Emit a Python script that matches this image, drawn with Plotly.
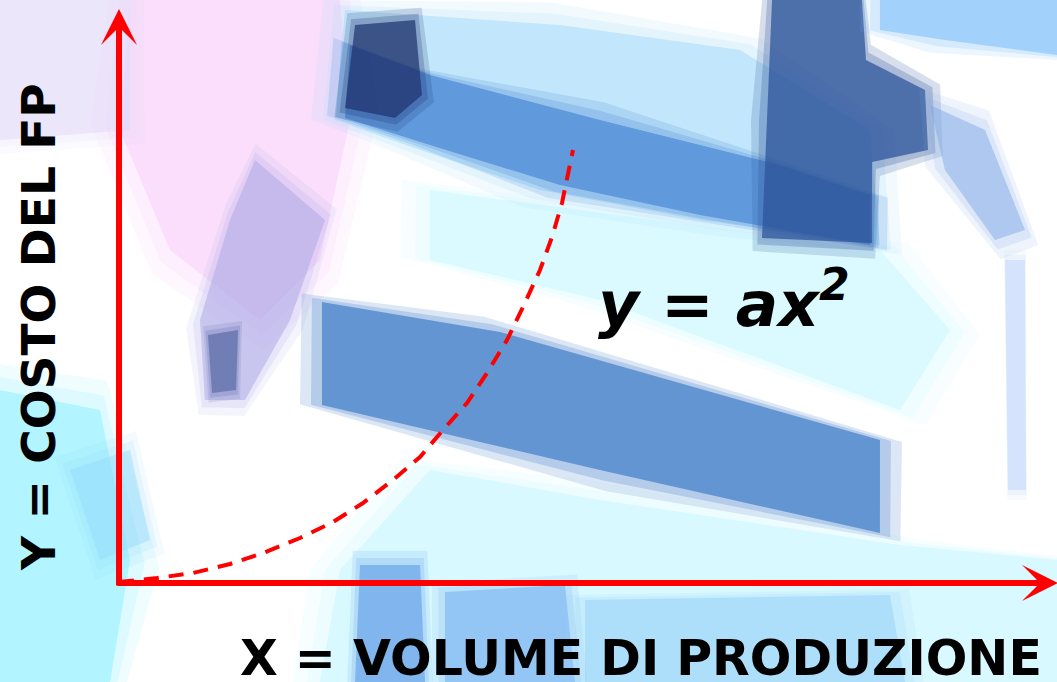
import math
import plotly.graph_objects as go

# curve (origin of the red axes = 0,0)
volume = [0, 38, 74, 111, 144, 181, 214, 244, 274, 301, 324, 348, 368, 388, 404, 421, 433, 443, 454]
costo = [1, 5, 10, 19, 30, 45, 61, 80, 103, 126, 153, 180, 210, 243, 276, 313, 346, 380, 433]

label_x = "X = VOLUME DI PRODUZIONE"
label_y = "Y = COSTO DEL FP"
formula = "y = ax<sup>2</sup>"

W, H = 1057, 682
OX, OY = 119, 583  # axes corner in pixels


def px(x):
    return x / W


def py(y):
    return 1 - y / H


def grow(points, d):
    # push every vertex d pixels away from the centre of the patch
    cx = sum(p[0] for p in points) / len(points)
    cy = sum(p[1] for p in points) / len(points)
    out = []
    for x, y in points:
        r = math.hypot(x - cx, y - cy) or 1
        out.append((x + d * (x - cx) / r, y + d * (y - cy) / r))
    return out


def blob(points, color, opacity, soft=0):
    # soft background patch (pixel coordinates), feathered with a few wider copies
    res = []
    steps = [(soft, 0.25), (soft / 2, 0.35), (0, 1.0)] if soft else [(0, 1.0)]
    for d, k in steps:
        pts = grow(points, d)
        path = "M " + " L ".join(f"{px(x):.4f},{py(y):.4f}" for x, y in pts) + " Z"
        res.append(dict(type="path", path=path, xref="paper", yref="paper",
                        fillcolor=color, opacity=opacity * k, line=dict(width=0), layer="below"))
    return res


shapes = []
# pink / lavender wash top left
shapes += blob([(130, 0), (340, 0), (350, 120), (320, 260), (260, 320), (170, 250), (120, 130)],
               "rgb(248,210,250)", 0.6, soft=30)
shapes += blob([(0, 0), (130, 0), (130, 130), (0, 140)], "rgb(225,215,250)", 0.5, soft=20)
shapes += blob([(255, 160), (325, 220), (290, 320), (245, 400), (205, 400), (200, 320), (230, 220)],
               "rgb(170,165,230)", 0.5, soft=16)
shapes += blob([(208, 335), (238, 330), (236, 390), (212, 393)], "rgb(80,100,160)", 0.6, soft=10)
# light cyan washes
shapes += blob([(430, 190), (880, 250), (950, 330), (900, 410), (600, 300), (430, 260)],
               "rgb(205,248,255)", 0.6, soft=30)
shapes += blob([(0, 390), (100, 410), (130, 560), (110, 682), (0, 682)], "rgb(150,240,255)", 0.6, soft=30)
shapes += blob([(70, 470), (130, 450), (150, 540), (100, 560)], "rgb(140,215,250)", 0.4, soft=20)
shapes += blob([(430, 470), (600, 500), (900, 545), (1057, 560), (1057, 682), (320, 682), (340, 570)],
               "rgb(195,245,255)", 0.5, soft=30)
# upper band
shapes += blob([(345, 10), (560, 25), (740, 50), (870, 130), (880, 245), (700, 220), (540, 190), (420, 150), (335, 120)],
               "rgb(165,218,250)", 0.55, soft=24)
shapes += blob([(350, 45), (430, 75), (600, 120), (780, 165), (870, 195), (870, 245), (700, 215), (560, 185), (430, 145), (345, 118)],
               "rgb(75,135,215)", 0.7, soft=18)
shapes += blob([(355, 25), (415, 20), (422, 95), (395, 118), (345, 108)], "rgb(30,50,110)", 0.7, soft=14)
# right block
shapes += blob([(772, 0), (862, 0), (866, 60), (925, 90), (928, 150), (872, 162), (872, 243), (762, 238), (767, 120)],
               "rgb(45,85,155)", 0.75, soft=16)
shapes += blob([(930, 105), (985, 130), (1025, 230), (995, 240), (945, 170)], "rgb(130,170,230)", 0.5, soft=20)
shapes += blob([(880, 0), (1057, 0), (1057, 55), (945, 40), (880, 30)], "rgb(120,190,250)", 0.55, soft=20)
shapes += blob([(1005, 260), (1025, 260), (1026, 490), (1008, 490)], "rgb(185,210,250)", 0.45, soft=10)
# middle band
shapes += blob([(322, 302), (500, 332), (880, 440), (880, 533), (600, 470), (322, 405)],
               "rgb(80,135,205)", 0.8, soft=22)
# bottom blue under the x axis
shapes += blob([(360, 565), (420, 565), (425, 682), (355, 682)], "rgb(90,150,230)", 0.55, soft=16)
shapes += blob([(445, 592), (565, 585), (575, 682), (445, 682)], "rgb(110,170,240)", 0.5, soft=16)
shapes += blob([(585, 600), (890, 595), (905, 682), (585, 682)], "rgb(150,210,250)", 0.5, soft=20)

fig = go.Figure()

fig.add_trace(go.Scatter(
    x=volume, y=costo, mode="lines",
    line=dict(color="#ff0000", width=4, dash="15px,10px"),
    hoverinfo="skip"))

arrow = dict(xref="x", yref="y", axref="x", ayref="y", text="", showarrow=True,
             arrowhead=3, arrowsize=1, arrowwidth=6, arrowcolor="#ff0000",
             standoff=0, startstandoff=0)

annotations = [
    dict(arrow, x=0, y=OY - 9, ax=0, ay=-4),
    dict(arrow, x=W - OX + 1, y=0, ax=-3, ay=0),
    dict(x=724 - OX, y=OY - 300, xref="x", yref="y", text=formula, showarrow=False,
         font=dict(family="DejaVu Sans", size=63, color="black", weight="bold", style="italic")),
    dict(x=38 - OX, y=OY - 327, xref="x", yref="y", text=label_y, showarrow=False, textangle=-90,
         font=dict(family="DejaVu Sans", size=47, color="black", weight="bold")),
    dict(x=641 - OX, y=OY - 658, xref="x", yref="y", text=label_x, showarrow=False,
         font=dict(family="DejaVu Sans", size=49, color="black", weight="bold")),
]

fig.update_layout(
    width=W, height=H,
    margin=dict(l=0, r=0, t=0, b=0),
    paper_bgcolor="white", plot_bgcolor="rgba(0,0,0,0)",
    showlegend=False,
    xaxis=dict(visible=False, range=[-OX, W - OX], fixedrange=True),
    yaxis=dict(visible=False, range=[OY - H, OY], fixedrange=True),
    shapes=shapes,
    annotations=annotations,
)

fig.write_html("out.html", config=dict(displayModeBar=False),
               post_script="document.body.style.margin='0';document.body.style.overflow='hidden';")
